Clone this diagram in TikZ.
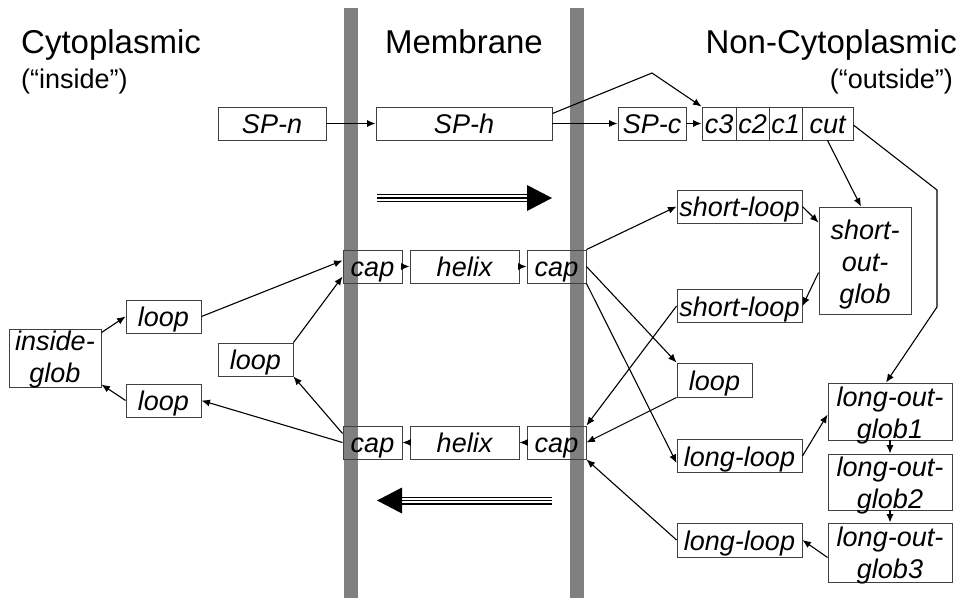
\documentclass[tikz,border=0pt]{standalone}
\usepackage{fontspec}
\setmainfont{Liberation Sans}
\usetikzlibrary{arrows.meta,calc}
\begin{document}
\begin{tikzpicture}[x=1pt,y=-1pt,
  bx/.style={draw=black!75, line width=0.9pt, fill=white, inner sep=0pt,
    font=\fontsize{27}{32}\selectfont\itshape, align=center,
    text height=26.5pt, text depth=6.5pt},
  capbx/.style={bx, fill=none},
  hdr/.style={inner sep=0pt, font=\fontsize{33}{38}\selectfont},
  sub/.style={inner sep=0pt, font=\fontsize{27}{32}\selectfont},
  arr/.style={-{Latex[length=8.5pt,width=7pt]}, line width=1.1pt},
  bar/.style={fill=black!50, draw=none},
]
\useasboundingbox (0,0) rectangle (960,598);
% membrane bars
\fill[bar] (344,8) rectangle (358,598);
\fill[bar] (570,8) rectangle (584,598);
% headers
\node[hdr, anchor=base west] (hcyt) at (21,53) {Cytoplasmic};
\node[sub, anchor=base west] (hin) at (21,88) {(“inside”)};
\node[hdr, anchor=base] (hmem) at (464,53) {Membrane};
\node[hdr, anchor=base east] (hnon) at (957,53) {Non-Cytoplasmic};
\node[sub, anchor=base east] (hout) at (953,88) {(“outside”)};
% signal peptide row
\node[bx, minimum width=108, minimum height=33] (spn) at (272,123.5) {SP-n};
\node[bx, minimum width=176, minimum height=33] (sph) at (464,123.5) {SP-h};
\node[bx, minimum width=68, minimum height=33] (spc) at (652,123.5) {SP-c};
\node[bx, minimum width=34, minimum height=33] (c3) at (719,123.5) {c3};
\node[bx, minimum width=33, minimum height=33] (c2) at (752.5,123.5) {c2};
\node[bx, minimum width=33, minimum height=33] (c1) at (785.5,123.5) {c1};
\node[bx, minimum width=51, minimum height=33] (cut) at (827.5,123.5) {cut};
% helix rows
\node[capbx, minimum width=59, minimum height=33] (capUL) at (372.5,266.5) {cap};
\node[bx, minimum width=109, minimum height=33] (helU) at (464.5,266.5) {helix};
\node[capbx, minimum width=59, minimum height=33] (capUR) at (556.5,266.5) {cap};
\node[capbx, minimum width=59, minimum height=33] (capLL) at (372.5,442.5) {cap};
\node[bx, minimum width=109, minimum height=33] (helL) at (464.5,442.5) {helix};
\node[capbx, minimum width=59, minimum height=33] (capLR) at (556.5,442.5) {cap};
% inside
\node[bx, minimum width=92, minimum height=58, text height=53pt, text depth=5pt] (ig) at (55,358) {inside-\\glob};
\node[bx, minimum width=75, minimum height=33] (loopUL) at (163.5,316.5) {loop};
\node[bx, minimum width=75, minimum height=33] (loopLL) at (163.5,400.5) {loop};
\node[bx, minimum width=75, minimum height=33] (loopM) at (255.5,359.5) {loop};
% outside
\node[bx, minimum width=125, minimum height=33] (slU) at (739.5,206.5) {short-loop};
\node[bx, minimum width=92, minimum height=107, text height=96pt, text depth=11pt] (sog) at (865,260.5) {short-\\out-\\glob};
\node[bx, minimum width=125, minimum height=33] (slL) at (739.5,306) {short-loop};
\node[bx, minimum width=75, minimum height=34, text height=27pt, text depth=7pt] (loopR) at (714.5,380) {loop};
\node[bx, minimum width=125, minimum height=33] (llU) at (739.5,456) {long-loop};
\node[bx, minimum width=125, minimum height=34, text height=27pt, text depth=7pt] (llL) at (739.5,540) {long-loop};
\node[bx, minimum width=124, minimum height=57, text height=55pt, text depth=2pt] (log1) at (890,411.5) {long-out-\\glob1};
\node[bx, minimum width=124, minimum height=56, text height=54pt, text depth=2pt] (log2) at (890,482) {long-out-\\glob2};
\node[bx, minimum width=124, minimum height=59, text height=55pt, text depth=4pt] (log3) at (890,552.5) {long-out-\\glob3};
% free bend points
\coordinate (k1) at (652,73);
\coordinate (k2) at (937,190);
\coordinate (k3) at (937,307);
% signal peptide connectors
\draw[arr] (spn) -- (sph);
\draw[arr] (sph.east) -- (spc.west);
\draw[arr] ($(sph.east)+(0,-10)$) -- (k1) -- (c3.north west);
\draw[arr] (spc.east) -- (c3.west);
\draw[arr] (cut.south) -- ($(sog.north)+(-4,0)$);
\draw[arr] ($(cut.east)+(0,1.5)$) -- (k2) -- (k3) -- ($(log1.north)+(-4,0)$);
% helix connectors
\draw[arr] (capUL.east) -- (helU.west);
\draw[arr] (helU.east) -- (capUR.west);
\draw[arr] (capLR.west) -- (helL.east);
\draw[arr] (helL.west) -- (capLL.east);
% inside connectors
\draw[arr] ($(ig.north east)+(0,4)$) -- (loopUL.west);
\draw[arr] (loopUL.east) -- ($(capUL.west)+(0,-6)$);
\draw[arr] (loopM.north east) -- ($(capUL.west)+(0,10)$);
\draw[arr] ($(capLL.west)+(0,-9)$) -- (loopM.south east);
\draw[arr] (capLL.west) -- (loopLL.east);
\draw[arr] (loopLL.west) -- ($(ig.south east)+(0,-3)$);
% outside connectors
\draw[arr] (capUR.north east) -- (slU.west);
\draw[arr] (capUR.east) -- (loopR.north west);
\draw[arr] (capUR.south east) -- ($(llU.west)+(0,7)$);
\draw[arr] (slU.east) -- ($(sog.north west)+(0,16)$);
\draw[arr] ($(sog.north west)+(0,66)$) -- (slL.east);
\draw[arr] (slL.west) -- (capLR.north east);
\draw[arr] (loopR.south west) -- (capLR.east);
\draw[arr] (llL.west) -- (capLR.south east);
\draw[arr] (llU.east) -- ($(log1.west)+(0,3)$);
\draw[arr] (log1.south) -- (log2.north);
\draw[arr] (log2.south) -- (log3.north);
\draw[arr] ($(log3.west)+(0,5)$) -- (llL.east);
% direction arrows
\coordinate (aS) at (377,198);
\coordinate (aE) at (527,198);
\coordinate (aT) at (552,198);
\draw[line width=8pt] (aS) -- (aE);
\draw[line width=5.5pt, white] (aS) -- (aE);
\draw[line width=1.5pt] (aS) -- (aE);
\fill ($(aE)+(0,-13)$) -- (aT) -- ($(aE)+(0,13)$) -- cycle;
\coordinate (bS) at (552,500.5);
\coordinate (bE) at (402,500.5);
\coordinate (bT) at (377,500.5);
\draw[line width=8pt] (bS) -- (bE);
\draw[line width=5.5pt, white] (bS) -- (bE);
\draw[line width=1.5pt] (bS) -- (bE);
\fill ($(bE)+(0,-13)$) -- (bT) -- ($(bE)+(0,13)$) -- cycle;
\end{tikzpicture}
\end{document}
